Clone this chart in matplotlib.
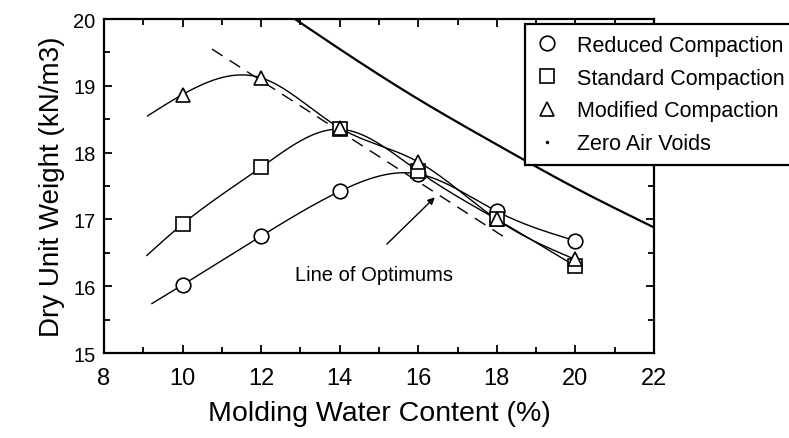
import matplotlib
matplotlib.use("Agg")
import matplotlib.pyplot as plt
from matplotlib.lines import Line2D
from matplotlib.ticker import MultipleLocator
import numpy as np

plt.rcParams['font.family'] = ['Liberation Sans', 'DejaVu Sans']

# water content (%) of the test points
w = [10, 12, 14, 16, 18, 20]

# dry unit weight (kN/m3)
reduced = [16.02, 16.75, 17.42, 17.68, 17.12, 16.68]
standard = [16.93, 17.78, 18.35, 17.72, 17.0, 16.30]
modified = [18.87, 19.12, 18.37, 17.86, 17.0, 16.40]

# where the hand drawn curves start on the left
reduced_start = (9.22, 15.74)
standard_start = (9.09, 16.46)
modified_start = (9.11, 18.55)

# zero air voids curve
zav_w = [12.86, 14, 16, 18, 20, 22]
zav_g = [20.0, 19.55, 18.80, 18.12, 17.47, 16.88]

# line of optimums (dashed), two ends
opt_w = [10.75, 18.23]
opt_g = [19.55, 16.72]

# arrow tail / head
arrow_tail = (15.2, 16.63)
arrow_head = (16.42, 17.33)


def spline(xk, yk, n=200):
    # natural cubic spline through the knots
    xk = np.asarray(xk, float)
    yk = np.asarray(yk, float)
    m = len(xk)
    h = np.diff(xk)
    A = np.zeros((m, m))
    b = np.zeros(m)
    A[0, 0] = 1
    A[-1, -1] = 1
    for i in range(1, m - 1):
        A[i, i - 1] = h[i - 1]
        A[i, i] = 2 * (h[i - 1] + h[i])
        A[i, i + 1] = h[i]
        b[i] = 6 * ((yk[i + 1] - yk[i]) / h[i] - (yk[i] - yk[i - 1]) / h[i - 1])
    M = np.linalg.solve(A, b)
    xs = np.linspace(xk[0], xk[-1], n)
    idx = np.clip(np.searchsorted(xk, xs) - 1, 0, m - 2)
    x0 = xk[idx]
    x1 = xk[idx + 1]
    hh = x1 - x0
    ys = (M[idx] * (x1 - xs) ** 3 / (6 * hh) + M[idx + 1] * (xs - x0) ** 3 / (6 * hh)
          + (yk[idx] / hh - M[idx] * hh / 6) * (x1 - xs)
          + (yk[idx + 1] / hh - M[idx + 1] * hh / 6) * (xs - x0))
    return xs, ys


fig = plt.figure(figsize=(7.89, 4.39), dpi=100)
ax = fig.add_axes([0.1318, 0.1936, 0.6971, 0.7608])

mk = dict(markersize=10.5, markerfacecolor='white', markeredgecolor='black',
          markeredgewidth=1.2, linestyle='none', zorder=4)

for start, vals, m in [(reduced_start, reduced, 'o'),
                       (standard_start, standard, 's'),
                       (modified_start, modified, '^')]:
    xs, ys = spline([start[0]] + w, [start[1]] + vals)
    ax.plot(xs, ys, color='black', lw=1.0, zorder=3)
    ax.plot(w, vals, marker=m, **mk)

xz, yz = spline(zav_w, zav_g)
ax.plot(xz, yz, color='black', lw=1.6)

ax.plot(opt_w, opt_g, color='black', lw=1.0, dashes=(9, 6))

ax.annotate('', xy=arrow_head, xytext=arrow_tail,
            arrowprops=dict(arrowstyle='-|>', color='black', lw=1.0,
                            mutation_scale=10, shrinkA=0, shrinkB=0))
ax.text(14.88, 16.18, 'Line of Optimums', fontsize=14.5, ha='center', va='center')

ax.set_xlim(8, 22)
ax.set_ylim(15, 20)
ax.xaxis.set_major_locator(MultipleLocator(2))
ax.xaxis.set_minor_locator(MultipleLocator(1))
ax.yaxis.set_major_locator(MultipleLocator(1))
ax.yaxis.set_minor_locator(MultipleLocator(0.5))
ax.tick_params(which='both', direction='in', top=True, right=True, width=1.3)
ax.tick_params(which='major', length=6)
ax.tick_params(which='minor', length=4)
ax.tick_params(axis='x', labelsize=17, pad=10)
ax.tick_params(axis='y', labelsize=14.5, pad=6)
for s in ax.spines.values():
    s.set_linewidth(1.6)

ax.set_xlabel('Molding Water Content (%)', fontsize=20.5, labelpad=8)
ax.set_ylabel('Dry Unit Weight (kN/m3)', fontsize=20, labelpad=6)

handles = [Line2D([], [], marker='o', **mk),
           Line2D([], [], marker='s', **mk),
           Line2D([], [], marker='^', **mk),
           Line2D([], [], marker='.', markersize=3, color='black', linestyle='none')]
labels = ['Reduced Compaction', 'Standard Compaction', 'Modified Compaction', 'Zero Air Voids']
leg = ax.legend(handles, labels, loc='upper left', bbox_to_anchor=(0.6654, 0.943),
                bbox_transform=fig.transFigure, fontsize=15.5, frameon=True,
                fancybox=False, framealpha=1, edgecolor='black', handlelength=1.0,
                handletextpad=0.9, labelspacing=0.55, borderpad=0.5, borderaxespad=0)
leg.get_frame().set_linewidth(1.6)
leg.set_zorder(5)

fig.savefig('out.png', dpi=100)
